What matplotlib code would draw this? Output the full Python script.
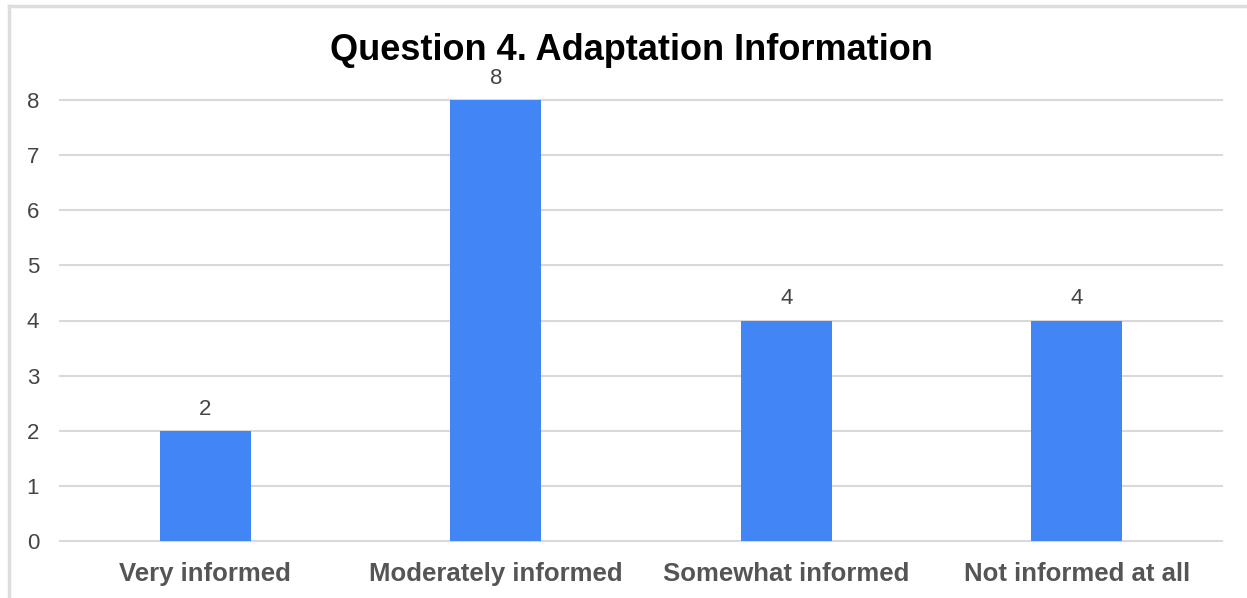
import matplotlib.pyplot as plt
from matplotlib.lines import Line2D

categories = ['Very informed', 'Moderately informed', 'Somewhat informed', 'Not informed at all']
counts = [2, 8, 4, 4]
yticks = list(range(0, 9))

BAR = '#4285f4'
GRID = '#d9d9d9'
TICK = '#444444'
LABEL = '#555555'

plt.rcParams['font.family'] = ['Liberation Sans', 'DejaVu Sans']

fig = plt.figure(figsize=(12.47, 5.98), dpi=100)
ax = fig.add_axes([60 / 1247, 1 - 541 / 598, 1162 / 1247, 441 / 598])

x = list(range(len(categories)))
ax.bar(x, counts, width=0.313, color=BAR, zorder=3)
for xi, c in zip(x, counts):
    ax.annotate(str(c), (xi, c), xytext=(0, 8), textcoords='offset points',
                ha='center', va='bottom', fontsize=16, color=TICK)

ax.set_xlim(-0.5, len(categories) - 0.5)
ax.set_ylim(0, 8)
ax.set_yticks(yticks)
ax.set_yticklabels([str(t) for t in yticks], fontsize=16, color=TICK)
ax.set_xticks(x)
ax.set_xticklabels(categories, fontsize=18.5, fontweight='bold', color=LABEL)
ax.tick_params(axis='y', length=0, pad=15)
ax.tick_params(axis='x', length=0, pad=15)
ax.grid(axis='y', color=GRID, linewidth=1.5, zorder=0)
for gl in ax.get_ygridlines():
    gl.set_clip_on(False)
for s in ax.spines.values():
    s.set_visible(False)

fig.text(631 / 1247, 1 - 50 / 598, 'Question 4. Adaptation Information',
         ha='center', va='center', fontsize=26, fontweight='bold', color='black')

# light frame around the chart (left and top only visible)
frame = dict(color='#dddddd', linewidth=2.5, transform=fig.transFigure)
fig.add_artist(Line2D([9 / 1247, 9 / 1247], [0, 1 - 6 / 598], **frame))
fig.add_artist(Line2D([9 / 1247, 1], [1 - 6 / 598, 1 - 6 / 598], **frame))

fig.savefig('out.png', dpi=100, facecolor='white')
